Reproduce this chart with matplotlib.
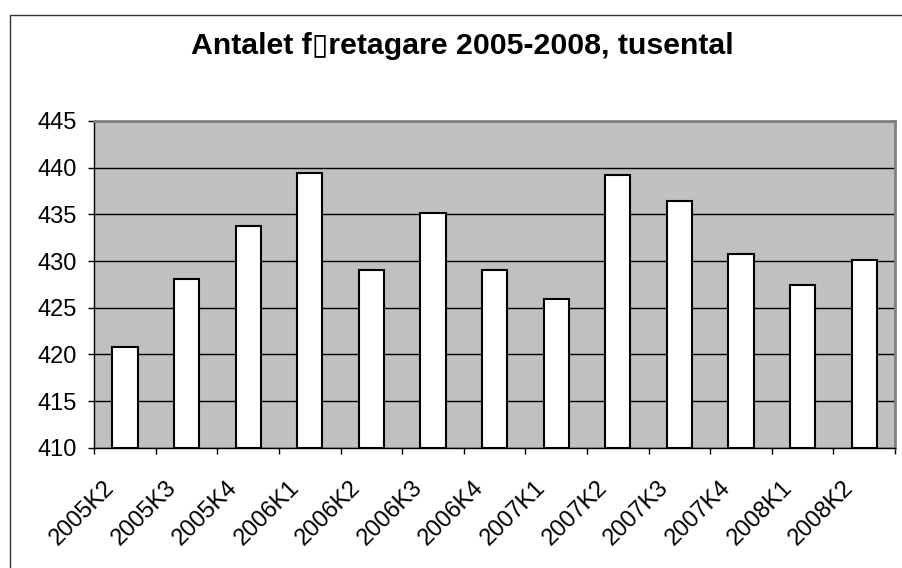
import matplotlib
matplotlib.use("Agg")
import matplotlib.pyplot as plt
import matplotlib.transforms as mtransforms
from matplotlib.lines import Line2D

# Data (thousands of companies)
quarters = ["2005K2", "2005K3", "2005K4", "2006K1", "2006K2", "2006K3", "2006K4",
            "2007K1", "2007K2", "2007K3", "2007K4", "2008K1", "2008K2"]
companies = [420.8, 428.1, 433.8, 439.4, 429.0, 435.1, 429.0,
             425.9, 439.2, 436.4, 430.7, 427.4, 430.1]
y_ticks = [410, 415, 420, 425, 430, 435, 440, 445]

plt.rcParams["font.family"] = ["Liberation Sans", "DejaVu Sans"]

W, H = 902, 568
fig = plt.figure(figsize=(W / 100, H / 100), dpi=100)
fig.patch.set_facecolor("white")

ax = fig.add_axes([94.3 / W, 1 - 447.7 / H, (895 - 94.3) / W, (447.7 - 121) / H])
ax.set_facecolor("#c0c0c0")

x = list(range(len(quarters)))
ax.bar(x, [v - 410 for v in companies], bottom=410, width=0.41,
       color="white", edgecolor="black", linewidth=1.5, zorder=3)

ax.set_xlim(-0.5, len(quarters) - 0.5)
ax.set_ylim(410, 445)
ax.set_yticks(y_ticks)
ax.yaxis.grid(True, color="black", linewidth=1.0, zorder=1)
ax.set_axisbelow(True)

# Category boundaries carry the tick marks, labels sit at the centres
ax.set_xticks([i - 0.5 for i in range(len(quarters) + 1)])
ax.set_xticklabels([])
ax.set_xticks(x, minor=True)
ax.set_xticklabels(quarters, minor=True, rotation=45, ha="right", va="center",
                   rotation_mode="anchor", fontsize=17)
ax.tick_params(axis="x", which="minor", length=0, pad=26)
ax.tick_params(axis="x", which="major", length=4.3, width=1, color="black")
ax.tick_params(axis="y", length=4.3, width=1, color="black", labelsize=17, pad=8)
shift = mtransforms.ScaledTranslation(-14 / 100, 0, fig.dpi_scale_trans)
for lab in ax.get_xticklabels(minor=True):
    lab.set_transform(lab.get_transform() + shift)

for side in ["top", "right"]:
    ax.spines[side].set_color("#808080")
    ax.spines[side].set_linewidth(2)
ax.spines["left"].set_color("black")
ax.spines["bottom"].set_color("black")
ax.spines["left"].set_linewidth(1)
ax.spines["bottom"].set_linewidth(1)

# Chart frame
fig.add_artist(Line2D([10 / W, 10 / W, 1.0], [0.0, 1 - 14.7 / H, 1 - 14.7 / H],
                      transform=fig.transFigure, color="#333333", linewidth=1))

fig.text(462 / W, 1 - 54 / H, "Antalet f\u25afretagare 2005-2008, tusental",
         ha="center", va="baseline", fontsize=21.8, fontweight="bold")

fig.savefig("out.png", dpi=100)
